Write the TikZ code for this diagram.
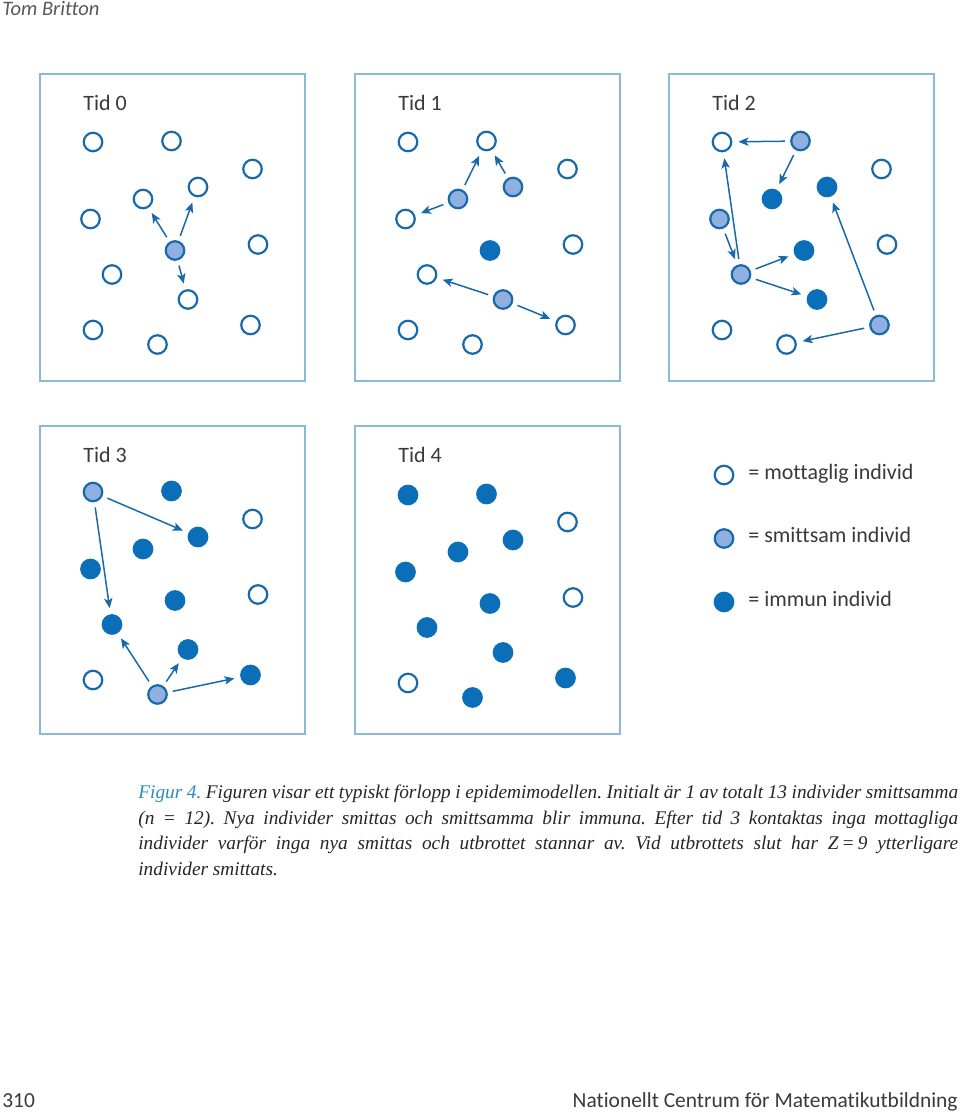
\documentclass[tikz,border=0pt]{standalone}
\usepackage{fontspec}
\setsansfont[Ligatures=NoCommon]{Carlito}
\newfontfamily\capfont{Liberation Serif}
\usetikzlibrary{arrows.meta,calc}
\definecolor{boxc}{RGB}{140,186,212}
\definecolor{ringc}{RGB}{23,105,170}
\definecolor{infc}{RGB}{143,176,224}
\definecolor{immc}{RGB}{10,111,184}
\definecolor{figc}{RGB}{42,140,192}
\definecolor{txt}{RGB}{58,58,58}
\tikzset{
  panel/.style={draw=boxc,line width=0.6pt},
  sus/.style={circle,draw=ringc,fill=white,line width=1.25pt,minimum size=0.37cm,inner sep=0pt},
  inf/.style={sus,fill=infc},
  imm/.style={sus,draw=immc,fill=immc},
  spread/.style={-{Stealth[length=2mm,width=1.7mm,inset=0.5mm]},ringc,line width=0.85pt,shorten <=3pt,shorten >=3.5pt},
  tid/.style={font=\sffamily\fontsize{12.5}{15}\selectfont,text=txt,anchor=base west,inner sep=0pt},
  page/.style={font=\sffamily\fontsize{12.2}{15}\selectfont,text=txt,inner sep=0pt},
  caption/.style={font=\capfont\itshape\frenchspacing\fontsize{11}{14.5}\selectfont,text=black!85,anchor=north west,inner sep=0pt,text width=16.4cm,align=justify},
}
% layout of the 13 individuals, measured from the upper left corner of a box
\def\xs{{53,131.5,212.5,103,158,50.5,218,135,72,148,53,210.5,117.5}}
\def\ys{{68,67,95,125,113,145,170.5,176.5,200.5,225.5,256,251,270.5}}

\begin{document}
\begin{tikzpicture}[x=0.02cm,y=-0.02cm]
\path[use as bounding box,fill=white] (0,0) rectangle (960,1112);
\node[page,font=\sffamily\itshape\fontsize{11.7}{14}\selectfont,text=black!65,anchor=base west] (auth) at (2,15) {Tom Britton};

% ================= Tid 0 =================
\coordinate (o0) at (40,74);
\draw[panel] (o0) rectangle ++(265,307);
\node[tid] (t0) at ($(o0)+(43,36)$) {Tid 0};
\foreach \i/\st in {1/sus,2/sus,3/sus,4/sus,5/sus,6/sus,7/sus,8/inf,9/sus,10/sus,11/sus,12/sus,13/sus}{
  \pgfmathsetmacro\dx{\xs[\i-1]}
  \pgfmathsetmacro\dy{\ys[\i-1]}
  \node[\st] (p0-\i) at ($(o0)+(\dx,\dy)$) {};
}
\foreach \a/\b in {8/4,8/5,8/10} \draw[spread] (p0-\a) -- (p0-\b);

% ================= Tid 1 =================
\coordinate (o1) at (355,74);
\draw[panel] (o1) rectangle ++(265,307);
\node[tid] (t1) at ($(o1)+(43,36)$) {Tid 1};
\foreach \i/\st in {1/sus,2/sus,3/sus,4/inf,5/inf,6/sus,7/sus,8/imm,9/sus,10/inf,11/sus,12/sus,13/sus}{
  \pgfmathsetmacro\dx{\xs[\i-1]}
  \pgfmathsetmacro\dy{\ys[\i-1]}
  \node[\st] (p1-\i) at ($(o1)+(\dx,\dy)$) {};
}
\foreach \a/\b in {4/2,4/6,5/2,10/9,10/12} \draw[spread] (p1-\a) -- (p1-\b);

% ================= Tid 2 =================
\coordinate (o2) at (669,74);
\draw[panel] (o2) rectangle ++(265,307);
\node[tid] (t2) at ($(o2)+(43,36)$) {Tid 2};
\foreach \i/\st in {1/sus,2/inf,3/sus,4/imm,5/imm,6/inf,7/sus,8/imm,9/inf,10/imm,11/sus,12/inf,13/sus}{
  \pgfmathsetmacro\dx{\xs[\i-1]}
  \pgfmathsetmacro\dy{\ys[\i-1]}
  \node[\st] (p2-\i) at ($(o2)+(\dx,\dy)$) {};
}
\foreach \a/\b in {2/1,2/4,6/9,9/1,9/8,9/10,12/5,12/13} \draw[spread] (p2-\a) -- (p2-\b);

% ================= Tid 3 =================
\coordinate (o3) at (40,426);
\draw[panel] (o3) rectangle ++(265,308);
\node[tid] (t3) at ($(o3)+(43,36)$) {Tid 3};
\foreach \i/\st in {1/inf,2/imm,3/sus,4/imm,5/imm,6/imm,7/sus,8/imm,9/imm,10/imm,11/sus,12/imm,13/inf}{
  \pgfmathsetmacro\dx{\xs[\i-1]}
  \pgfmathsetmacro\dy{\ys[\i-1]}
  \node[\st] (p3-\i) at ($(o3)+(\dx,\dy-2)$) {};
}
\foreach \a/\b in {1/5,1/9,13/9,13/10,13/12} \draw[spread] (p3-\a) -- (p3-\b);

% ================= Tid 4 =================
\coordinate (o4) at (355,426);
\draw[panel] (o4) rectangle ++(265,308);
\node[tid] (t4) at ($(o4)+(43,36)$) {Tid 4};
\foreach \i/\st in {1/imm,2/imm,3/sus,4/imm,5/imm,6/imm,7/sus,8/imm,9/imm,10/imm,11/sus,12/imm,13/imm}{
  \pgfmathsetmacro\dx{\xs[\i-1]}
  \pgfmathsetmacro\dy{\ys[\i-1]}
  \node[\st] (p4-\i) at ($(o4)+(\dx,\dy+1)$) {};
}

% ================= key =================
\node[sus] (ksus) at (724,475) {};
\node[tid] (lsus) at (748,479.5) {= mottaglig individ};
\node[inf] (kinf) at (724,538.5) {};
\node[tid] (linf) at (748,542.5) {= smittsam individ};
\node[imm] (kimm) at (724,602) {};
\node[tid] (limm) at (748,606) {= immun individ};

% caption and page line
\node[caption] (cap) at (138,785) {{\color{figc}Figur 4.} Figuren visar ett typiskt förlopp i epidemimodellen. Initialt är 1 av totalt 13 individer smittsamma\linebreak (n = 12). Nya individer smittas och smittsamma blir immuna. Efter tid 3 kontaktas inga mottagliga\linebreak individer varför inga nya smittas och utbrottet stannar av. Vid utbrottets slut har Z\,=\,9 ytterligare\linebreak individer smittats.};
\node[page,anchor=base west] (pnum) at (2,1107) {310};
\node[page,anchor=base east] (ncm) at (958,1107) {Nationellt Centrum för Matematikutbildning};
\end{tikzpicture}
\end{document}
